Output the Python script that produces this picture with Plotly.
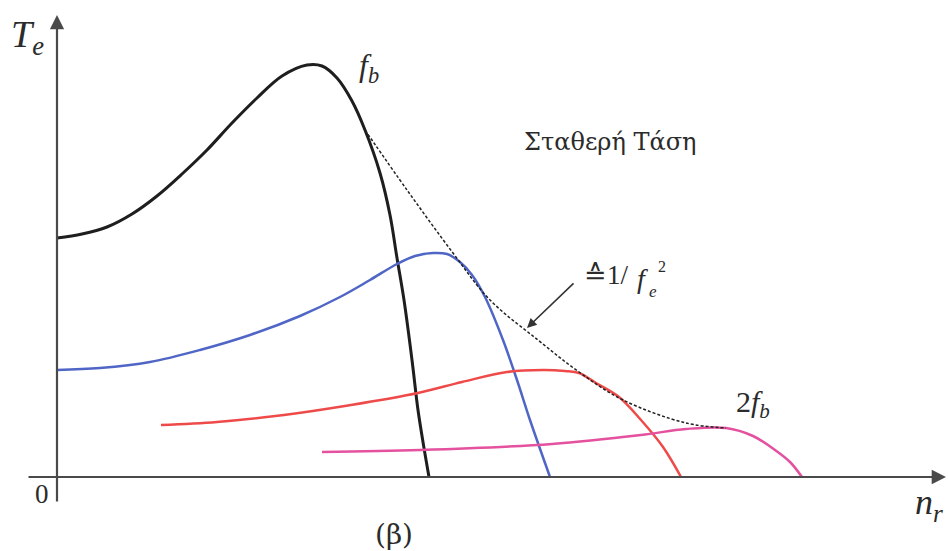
import plotly.graph_objects as go

# Torque–speed characteristics at constant voltage for increasing supply frequency
n_fb = [0, 2.5, 5.0, 7.5, 10.0, 12.5, 15.0, 17.5, 20.0, 22.5, 25.0, 26.5, 28.0, 29.5,
        30.8, 32.3, 33.3, 34.0, 34.7, 35.5, 36.1, 36.7, 37.2]
T_fb = [2.39, 2.43, 2.50, 2.63, 2.81, 3.03, 3.27, 3.54, 3.79, 4.01, 4.12, 4.11, 3.99, 3.76,
        3.47, 3.04, 2.62, 2.19, 1.77, 1.17, 0.67, 0.29, 0]

n_f2 = [0, 4.3, 9.3, 14.3, 19.3, 24.3, 28.3, 31.3, 34.0, 35.8, 37.6, 39.0, 40.3, 41.5,
        42.8, 44.6, 46.0, 47.3, 49.3]
T_f2 = [1.07, 1.09, 1.15, 1.27, 1.42, 1.61, 1.80, 1.97, 2.13, 2.21, 2.24, 2.23, 2.15, 2.02,
        1.80, 1.37, 0.97, 0.57, 0]

n_f3 = [10.4, 16.0, 22.7, 29.4, 36.1, 40.5, 45.0, 48.6, 50.8, 52.2, 53.9, 56.2, 58.4, 60.6, 62.4]
T_f3 = [0.52, 0.55, 0.62, 0.72, 0.84, 0.95, 1.05, 1.07, 1.06, 1.04, 0.94, 0.80, 0.57, 0.30, 0]

n_2fb = [26.5, 36.3, 49.5, 58.4, 62.9, 66.9, 69.6, 71.8, 73.3, 74.5]
T_2fb = [0.25, 0.27, 0.33, 0.42, 0.48, 0.49, 0.41, 0.27, 0.15, 0]

# Breakdown-torque envelope (~ 1/f_e^2)
n_env = [30.8, 35.0, 39.6, 43.3, 48.1, 52.2, 56.6, 62.9, 66.9]
T_env = [3.47, 2.87, 2.24, 1.77, 1.37, 1.05, 0.77, 0.54, 0.49]

SERIF = "Liberation Serif"
GREEK = "DejaVu Serif"
TXT = "#2b2b2b"
AX = "#4a4a4a"

fig = go.Figure()

curves = [
    (n_fb, T_fb, "#1e1e1e", 3.0),
    (n_f2, T_f2, "#5066c6", 2.5),
    (n_f3, T_f3, "#ef4a4a", 2.5),
    (n_2fb, T_2fb, "#e4519f", 2.5),
]
for xs, ys, col, w in curves:
    fig.add_trace(go.Scatter(x=xs, y=ys, mode="lines",
                             line=dict(color=col, width=w, shape="spline", smoothing=1.0),
                             hoverinfo="skip", showlegend=False))

fig.add_trace(go.Scatter(x=n_env, y=T_env, mode="lines",
                         line=dict(color="#222222", width=1.5, dash="3px,2px",
                                   shape="spline", smoothing=1.0),
                         hoverinfo="skip", showlegend=False))

annotations = []

# axes with arrowheads
annotations.append(dict(x=0, y=4.62, ax=0, ay=-0.26, xref="x", yref="y", axref="x", ayref="y",
                        text="", showarrow=True, arrowhead=2, arrowsize=1.3, arrowwidth=2.2,
                        arrowcolor=AX, standoff=0, startstandoff=0))
annotations.append(dict(x=88.9, y=0, ax=-3.0, ay=0, xref="x", yref="y", axref="x", ayref="y",
                        text="", showarrow=True, arrowhead=2, arrowsize=1.3, arrowwidth=2.2,
                        arrowcolor=AX, standoff=0, startstandoff=0))

# pointer to the envelope
annotations.append(dict(x=47.0, y=1.49, ax=51.8, ay=1.95, xref="x", yref="y", axref="x", ayref="y",
                        text="", showarrow=True, arrowhead=2, arrowsize=1.2, arrowwidth=1.6,
                        arrowcolor="#333333", standoff=0, startstandoff=0))

def label(x, y, text, size, xanchor="center", family=SERIF):
    annotations.append(dict(x=x, y=y, xref="x", yref="y", text=text, showarrow=False,
                            xanchor=xanchor, yanchor="middle",
                            font=dict(family=family, size=size, color=TXT)))

label(-3.0, 4.40, "<i>T<sub>e</sub></i>", 38)
label(31.2, 4.10, "<i>f<sub>b</sub></i>", 32)
label(55.3, 3.35, "Σταθερή Τάση", 24, family=GREEK)
label(52.5, 2.02, "≙1/", 27, xanchor="left")
label(58.5, 1.99, "<i>f</i>", 28)
label(59.6, 1.86, "<i>e</i>", 17)
label(60.5, 2.11, "2", 16)
label(69.6, 0.73, "2<i>f<sub>b</sub></i>", 30)
label(87.2, -0.27, "<i>n<sub>r</sub></i>", 36)
label(-1.5, -0.17, "0", 27)
label(33.7, -0.57, "(β)", 28, family=GREEK)

fig.update_layout(
    width=948, height=551,
    margin=dict(l=0, r=0, t=0, b=0),
    paper_bgcolor="white", plot_bgcolor="white",
    font=dict(family=SERIF),
    xaxis=dict(range=[-5.7, 89.1], visible=False, fixedrange=True),
    yaxis=dict(range=[-0.74, 4.77], visible=False, fixedrange=True),
    annotations=annotations,
    showlegend=False,
)

fig.write_html("out.html")
